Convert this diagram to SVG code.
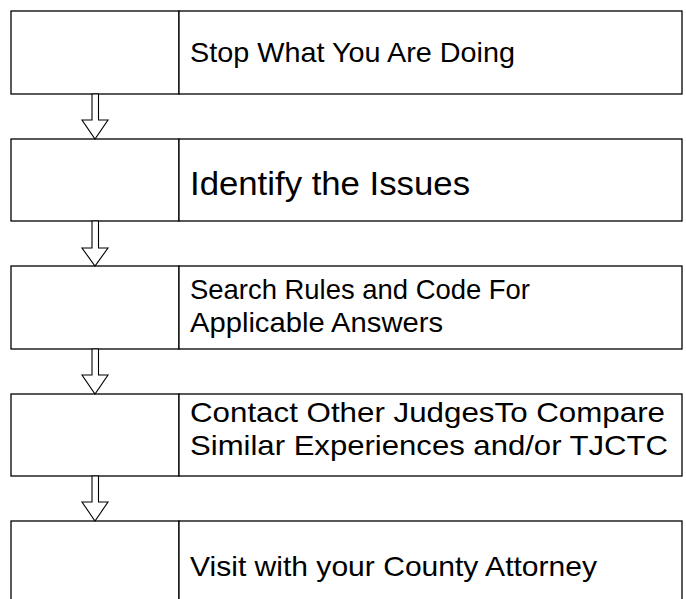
<svg xmlns="http://www.w3.org/2000/svg" width="686" height="599" viewBox="0 0 686 599">
<style>
.box{fill:#fff;stroke:#000;stroke-width:1.3}
.arr{fill:#fff;stroke:#000;stroke-width:1.1;stroke-linejoin:miter}
.t{font-family:"Liberation Sans",Arial,sans-serif;font-size:28px;fill:#000}
.tb{font-family:"Liberation Sans",Arial,sans-serif;font-size:34px;fill:#000}
</style>
<rect width="686" height="599" fill="#fff"/>
<g id="step1">
<rect class="box" x="11" y="11" width="168" height="83"/>
<rect class="box" x="179" y="11" width="503" height="83"/>
<text class="t" x="190" y="62" textLength="325" lengthAdjust="spacingAndGlyphs">Stop What You Are Doing</text>
</g>
<g id="step2">
<rect class="box" x="11" y="139" width="168" height="82"/>
<rect class="box" x="179" y="139" width="503" height="82"/>
<text class="tb" x="190" y="195" textLength="280" lengthAdjust="spacingAndGlyphs">Identify the Issues</text>
</g>
<g id="step3">
<rect class="box" x="11" y="266" width="168" height="83"/>
<rect class="box" x="179" y="266" width="503" height="83"/>
<text class="t" x="190" y="299" textLength="340" lengthAdjust="spacingAndGlyphs">Search Rules and Code For</text>
<text class="t" x="190" y="332" textLength="253" lengthAdjust="spacingAndGlyphs">Applicable Answers</text>
</g>
<g id="step4">
<rect class="box" x="11" y="394" width="168" height="82"/>
<rect class="box" x="179" y="394" width="503" height="82"/>
<text class="t" x="190" y="422" textLength="475" lengthAdjust="spacingAndGlyphs">Contact Other JudgesTo Compare</text>
<text class="t" x="190" y="455" textLength="478" lengthAdjust="spacingAndGlyphs">Similar Experiences and/or TJCTC</text>
</g>
<g id="step5">
<rect class="box" x="11" y="521" width="168" height="90"/>
<rect class="box" x="179" y="521" width="503" height="90"/>
<text class="t" x="190" y="576" textLength="407" lengthAdjust="spacingAndGlyphs">Visit with your County Attorney</text>
</g>
<g id="connectors">
<polygon class="arr" points="92,94 98.5,94 98.5,120 108,120 95,139 82,120 92,120"/>
<polygon class="arr" points="92,221 98.5,221 98.5,248 108,248 95,266 82,248 92,248"/>
<polygon class="arr" points="92,349 98.5,349 98.5,375 108,375 95,394 82,375 92,375"/>
<polygon class="arr" points="92,476 98.5,476 98.5,502 108,502 95,521 82,502 92,502"/>
</g>
</svg>
